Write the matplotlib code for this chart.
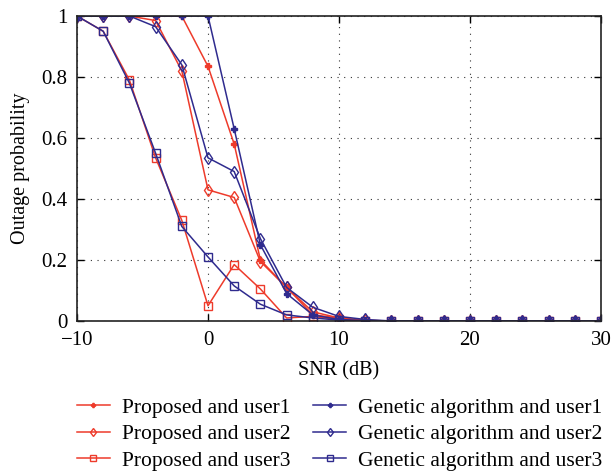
import matplotlib
matplotlib.use("Agg")
import matplotlib.pyplot as plt
import numpy as np

plt.rcParams['font.family'] = ['Liberation Serif', 'DejaVu Serif']
plt.rcParams['font.size'] = 14.5

snr = np.arange(-10, 31, 2)

prop_u1 = [1, 1, 1, 1, 1, 0.835, 0.58, 0.20, 0.11, 0.02, 0.01, 0.002,
           0, 0, 0, 0, 0, 0, 0, 0, 0]
gen_u1 = [1, 1, 1, 1, 1, 1, 0.63, 0.25, 0.09, 0.02, 0.005, 0.001,
          0, 0, 0, 0, 0, 0, 0, 0, 0]
prop_u2 = [1, 1, 1, 0.985, 0.82, 0.43, 0.405, 0.195, 0.11, 0.03, 0.01, 0.002,
           0, 0, 0, 0, 0, 0, 0, 0, 0]
gen_u2 = [1, 1, 1, 0.965, 0.84, 0.535, 0.49, 0.27, 0.11, 0.045, 0.015, 0.005,
          0, 0, 0, 0, 0, 0, 0, 0, 0]
prop_u3 = [1, 0.95, 0.79, 0.535, 0.33, 0.05, 0.185, 0.105, 0.01, 0.015, 0.005, 0,
           0, 0, 0, 0, 0, 0, 0, 0, 0]
gen_u3 = [1, 0.95, 0.78, 0.55, 0.31, 0.21, 0.115, 0.055, 0.02, 0.01, 0.003, 0,
          0, 0, 0, 0, 0, 0, 0, 0, 0]

red = '#ee3b2b'
blue = '#2f2b8e'

fig = plt.figure(figsize=(6.11, 4.75), dpi=100)
ax = fig.add_axes([77 / 611, 1 - 321 / 475, 524 / 611, 305 / 475])

ax.plot(snr, prop_u1, color=red, marker='P', ms=4, lw=1.1, label='Proposed and user1')
ax.plot(snr, prop_u2, color=red, marker='d', ms=6, mfc='none', lw=1.1, label='Proposed and user2')
ax.plot(snr, prop_u3, color=red, marker='s', ms=6, mfc='none', lw=1.1, label='Proposed and user3')
ax.plot(snr, gen_u1, color=blue, marker='P', ms=4, lw=1.1, label='Genetic algorithm and user1')
ax.plot(snr, gen_u2, color=blue, marker='d', ms=6, mfc='none', lw=1.1, label='Genetic algorithm and user2')
ax.plot(snr, gen_u3, color=blue, marker='s', ms=6, mfc='none', lw=1.1, label='Genetic algorithm and user3')

ax.set_xlim(-10, 30)
ax.set_ylim(0, 1)
ax.set_xticks([-10, 0, 10, 20, 30])
ax.set_xticklabels(['\u221210', '0', '10', '20', '30'])
ax.set_yticks([0, 0.2, 0.4, 0.6, 0.8, 1])
ax.set_yticklabels(['0', '0.2', '0.4', '0.6', '0.8', '1'])
ax.tick_params(direction='in', top=True, right=True, length=5, width=1, labelsize=15)
ax.tick_params(axis='x', pad=7)
ax.tick_params(axis='y', pad=7)
ax.grid(True, linestyle=(0, (1, 5)), color='#333333', lw=0.8)
for s in ax.spines.values():
    s.set_linewidth(1.2)
    s.set_color('#222222')

ax.set_xlabel('SNR (dB)', fontsize=14.5, labelpad=8)
ax.set_ylabel('Outage probability', fontsize=14.5, labelpad=8)

# two-column legend under the plot area
ax.legend(loc='upper left', bbox_to_anchor=(68 / 611, 1 - 389 / 475),
          bbox_transform=fig.transFigure, borderaxespad=0, ncol=2, frameon=False,
          fontsize=15.5, handlelength=1.55, columnspacing=1.05, labelspacing=0.3,
          handletextpad=0.55, markerscale=0.75)

fig.savefig('out.png', dpi=100)
